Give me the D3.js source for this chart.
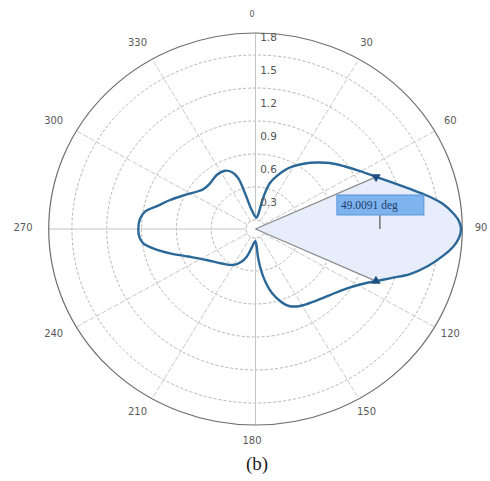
<!DOCTYPE html>
<html>
<head>
<meta charset="utf-8">
<script src="https://cdn.jsdelivr.net/npm/d3@7"></script>
<style>
  html, body { margin: 0; padding: 0; background: #fff; }
  svg { display: block; }
</style>
</head>
<body>
<svg id="chart" width="490" height="481"></svg>
<script>
// Radiation pattern: angle in degrees (clockwise from top) and magnitude
const patternAngles = [4, 9.6, 12.2, 14, 16.6, 21, 25.4, 29.6, 35.6, 41.2, 46.9, 53.6, 59.7, 65.5, 70.2, 74.7,
  78.6, 82, 85.1, 87.6, 90, 92.7, 95.5, 98.6, 102.75, 107.1, 110.7, 114.5091, 119.25, 125.3, 133.1, 141.9,
  151.3, 157.6, 162.1, 166.3, 169.6, 172.8, 175.2, 176.5, 181, 185.7, 192.1, 196.7, 202.6, 210.3, 222.7,
  236.2, 246.7, 253.3, 258.1, 262.3, 265.8, 270, 275.2, 279.4, 284, 289.7, 297, 308.7, 316.7, 325.7, 333.6,
  338.4, 342.2, 344.4, 349.3];
const patternValues = [0.02, 0.047, 0.14, 0.255, 0.355, 0.435, 0.512, 0.572, 0.651, 0.722, 0.797, 0.876, 0.962, 1.06, 1.168, 1.298,
  1.435, 1.55, 1.626, 1.673, 1.689, 1.673, 1.628, 1.552, 1.442, 1.311, 1.176, 1.059, 0.951, 0.863, 0.797, 0.75,
  0.716, 0.675, 0.606, 0.517, 0.417, 0.294, 0.174, 0.07, 0.03, 0.046, 0.104, 0.181, 0.243, 0.297, 0.345,
  0.425, 0.551, 0.687, 0.803, 0.894, 0.921, 0.928, 0.918, 0.883, 0.788, 0.70, 0.60, 0.495, 0.489, 0.512, 0.51,
  0.475, 0.402, 0.255, 0.094];

// Beamwidth annotation
const beamWidth = 49.0091;
const beamStart = 65.5;
const beamEdgeAngles = [beamStart, beamStart + beamWidth];
const beamEdgeValues = [1.06, 1.059];
const beamLabelAnchor = [90, 0.99];

// Axis ticks
const radialTicks = [0.3, 0.6, 0.9, 1.2, 1.5, 1.8];
const radialTickLabels = ["0.3", "0.6", "0.9", "1.2", "1.5", "1.8"];
const angleTicks = [0, 30, 60, 90, 120, 150, 180, 210, 240, 270, 300, 330];
const angleTickLabels = ["0", "30", "60", "90", "120", "150", "180", "210", "240", "270", "300", "330"];
const radialLimit = 1.7;
const caption = "(b)";

// Layout
const cx = 255.5, cy = 229, sx = 1.055;
const rScale = d3.scaleLinear().domain([0, 1.8]).range([9, 207]);
const toRad = d3.scaleLinear().domain([0, 360]).range([0, 2 * Math.PI]);

function px(a, v) { return cx + sx * rScale(v) * Math.sin(toRad(a)); }
function py(a, v) { return cy - rScale(v) * Math.cos(toRad(a)); }

const svg = d3.select("#chart");
const g = svg.append("g");

// Grid rings
const ringVals = [0, 0.3, 0.6, 0.9, 1.2, 1.5];
g.selectAll("ellipse.ring").data(ringVals).join("ellipse")
  .attr("class", "ring")
  .attr("cx", cx).attr("cy", cy)
  .attr("rx", d => sx * rScale(d)).attr("ry", d => rScale(d))
  .attr("fill", "none").attr("stroke", "#b5b5b5").attr("stroke-width", 1)
  .attr("stroke-dasharray", "3,2");

// Spokes
g.selectAll("line.spoke").data(angleTicks).join("line")
  .attr("class", "spoke")
  .attr("x1", d => px(d, 0)).attr("y1", d => py(d, 0))
  .attr("x2", d => px(d, radialLimit)).attr("y2", d => py(d, radialLimit))
  .attr("stroke", d => d % 90 === 0 ? "#c4c4c4" : "#c8c8c8").attr("stroke-width", 1)
  .attr("stroke-dasharray", d => d % 90 === 0 ? null : "5,2");

// Outer boundary
g.append("ellipse")
  .attr("cx", cx).attr("cy", cy)
  .attr("rx", sx * rScale(radialLimit)).attr("ry", rScale(radialLimit))
  .attr("fill", "none").attr("stroke", "#6e6e6e").attr("stroke-width", 1.2);

// Pattern path
const pts = patternAngles.map((a, i) => [a, patternValues[i]]);
const line = d3.line()
  .x(d => px(d[0], d[1]))
  .y(d => py(d[0], d[1]))
  .curve(d3.curveCatmullRomClosed.alpha(0.5));

// Shaded beam sector (pattern clipped to the beam wedge)
const wedge = [[cx, cy]];
d3.range(beamEdgeAngles[0], beamEdgeAngles[1], 1).forEach(a => wedge.push([px(a, 2.5), py(a, 2.5)]));
wedge.push([px(beamEdgeAngles[1], 2.5), py(beamEdgeAngles[1], 2.5)]);
svg.append("defs").append("clipPath").attr("id", "beamClip")
  .append("path").attr("d", "M" + wedge.map(p => p.join(",")).join("L") + "Z");
g.append("path")
  .attr("d", line(pts))
  .attr("fill", "#e7edfb")
  .attr("clip-path", "url(#beamClip)");

// Beam edge lines
g.selectAll("line.edge").data(beamEdgeAngles).join("line")
  .attr("class", "edge")
  .attr("x1", cx).attr("y1", cy)
  .attr("x2", (d, i) => px(d, beamEdgeValues[i])).attr("y2", (d, i) => py(d, beamEdgeValues[i]))
  .attr("stroke", "#8c8c8c").attr("stroke-width", 1.3);

g.append("path")
  .attr("d", line(pts))
  .attr("fill", "none")
  .attr("stroke", "#2b6797")
  .attr("stroke-width", 2.4)
  .attr("stroke-linejoin", "round");

// Beam edge markers
const tri = d3.symbol().type(d3.symbolTriangle).size(38);
g.selectAll("path.marker").data(beamEdgeAngles).join("path")
  .attr("class", "marker")
  .attr("d", tri)
  .attr("transform", (d, i) => `translate(${px(d, beamEdgeValues[i])},${py(d, beamEdgeValues[i])}) rotate(${i === 0 ? 180 : 0})`)
  .attr("fill", "#1d4f7e");

// Beamwidth label
const ax = px(beamLabelAnchor[0], beamLabelAnchor[1]);
const ay = py(beamLabelAnchor[0], beamLabelAnchor[1]);
g.append("line")
  .attr("x1", ax).attr("y1", ay).attr("x2", ax).attr("y2", ay - 14)
  .attr("stroke", "#555").attr("stroke-width", 1.2);
g.append("rect")
  .attr("x", ax - 43).attr("y", ay - 34).attr("width", 87).attr("height", 20)
  .attr("fill", "#7db3ef").attr("stroke", "#5c95d8").attr("stroke-width", 1);
g.append("text")
  .attr("x", ax - 39).attr("y", ay - 20)
  .attr("font-family", "Liberation Serif, serif").attr("font-size", 11.5)
  .attr("fill", "#1d3d6a")
  .text(`${beamWidth.toFixed(4)} deg`);

// Radial tick labels
g.selectAll("text.rtick").data(radialTicks).join("text")
  .attr("class", "rtick")
  .attr("x", cx + 13)
  .attr("y", d => cy - rScale(d) + 15)
  .attr("text-anchor", "middle").attr("dominant-baseline", "central")
  .attr("font-family", "DejaVu Sans, sans-serif").attr("font-size", 10.5)
  .attr("fill", "#555")
  .text((d, i) => radialTickLabels[i]);

// Angle tick labels
const lcx = 252, lcy = 227, lrx = 229, lry = 213;
g.selectAll("text.atick").data(angleTicks).join("text")
  .attr("class", "atick")
  .attr("x", d => lcx + lrx * Math.sin(toRad(d)))
  .attr("y", d => lcy - lry * Math.cos(toRad(d)))
  .attr("text-anchor", "middle").attr("dominant-baseline", "central")
  .attr("font-family", "DejaVu Sans, sans-serif")
  .attr("font-size", d => d === 0 ? 8 : 10)
  .attr("fill", "#5a5a5a")
  .text((d, i) => angleTickLabels[i]);

// Caption
svg.append("text")
  .attr("x", 257).attr("y", 463)
  .attr("text-anchor", "middle").attr("dominant-baseline", "central")
  .attr("font-family", "Liberation Serif, serif").attr("font-size", 19)
  .attr("fill", "#222")
  .text(caption);
</script>
</body>
</html>
